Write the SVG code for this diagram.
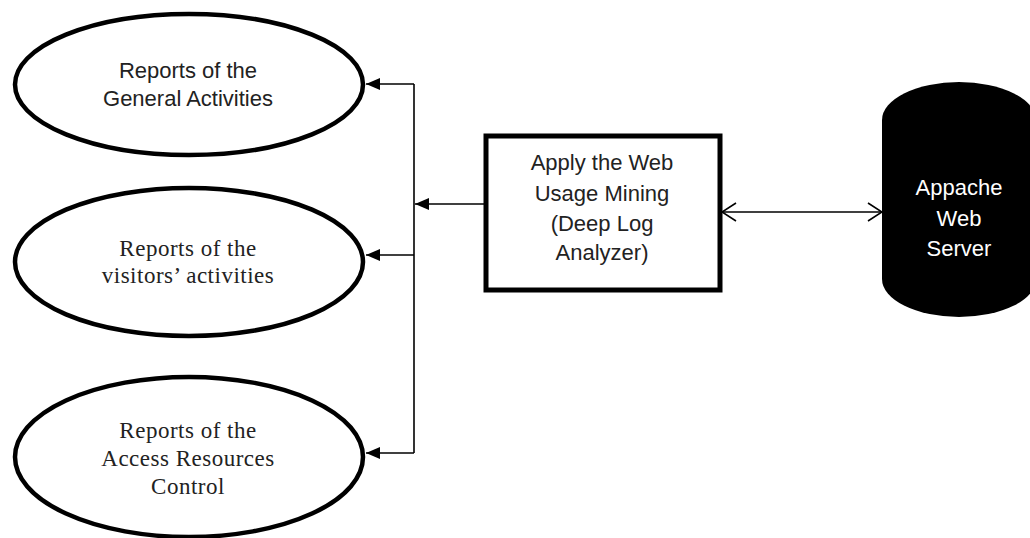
<svg xmlns="http://www.w3.org/2000/svg" width="1030" height="538" viewBox="0 0 1030 538">
<defs>
<style>
.ell{fill:#fff;stroke:#000;stroke-width:4.5}
.box{fill:#fff;stroke:#000;stroke-width:5}
.sans{font-family:"Liberation Sans",Arial,sans-serif;font-size:22px;fill:#222;text-anchor:middle}
.serif{font-family:"Liberation Serif","Times New Roman",serif;font-size:23px;letter-spacing:0.5px;fill:#222;text-anchor:middle}
.wt{fill:#fff}
.conn{fill:none;stroke:#000;stroke-width:1.6}
</style>
<marker id="tri" viewBox="0 0 14 12" refX="14" refY="6" markerWidth="14" markerHeight="12" markerUnits="userSpaceOnUse" orient="auto"><path d="M0,0 L14,6 L0,12 z" fill="#000"/></marker>
<marker id="open" viewBox="0 0 16 22" refX="15" refY="11" markerWidth="16" markerHeight="22" markerUnits="userSpaceOnUse" orient="auto-start-reverse"><path d="M1,2 L15,11 L1,20" fill="none" stroke="#000" stroke-width="1.6"/></marker>
</defs>
<rect width="1030" height="538" fill="#fff"/>
<g id="connectors">
<path class="conn" d="M414,84 V453"/>
<path class="conn" d="M414,84 H366" marker-end="url(#tri)"/>
<path class="conn" d="M414,255 H366" marker-end="url(#tri)"/>
<path class="conn" d="M414,453 H366" marker-end="url(#tri)"/>
<path class="conn" d="M484,204 H415" marker-end="url(#tri)"/>
<path class="conn" d="M722,212 H882" marker-start="url(#open)" marker-end="url(#open)"/>
</g>
<g id="node-general">
<ellipse class="ell" cx="189" cy="84.5" rx="174" ry="70.5"/>
<text class="sans" x="188" y="78">Reports of the</text>
<text class="sans" x="188" y="106">General Activities</text>
</g>
<g id="node-visitors">
<ellipse class="ell" cx="189" cy="262" rx="174" ry="74"/>
<text class="serif" x="188" y="256">Reports of the</text>
<text class="serif" x="188" y="283">visitors’ activities</text>
</g>
<g id="node-access">
<ellipse class="ell" cx="189" cy="457" rx="174" ry="80"/>
<text class="serif" x="188" y="438">Reports of the</text>
<text class="serif" x="188" y="466">Access Resources</text>
<text class="serif" x="188" y="494">Control</text>
</g>
<g id="node-mining">
<rect class="box" x="486" y="136" width="234" height="154"/>
<text class="sans" x="602" y="170">Apply the Web</text>
<text class="sans" x="602" y="201">Usage Mining</text>
<text class="sans" x="602" y="231">(Deep Log</text>
<text class="sans" x="602" y="260">Analyzer)</text>
</g>
<g id="node-server">
<path d="M882,120 A77,38 0 0 1 1036,120 V279 A77,38 0 0 1 882,279 Z" fill="#000"/>
<text class="sans wt" x="959" y="195">Appache</text>
<text class="sans wt" x="959" y="226">Web</text>
<text class="sans wt" x="959" y="256">Server</text>
</g>
</svg>
